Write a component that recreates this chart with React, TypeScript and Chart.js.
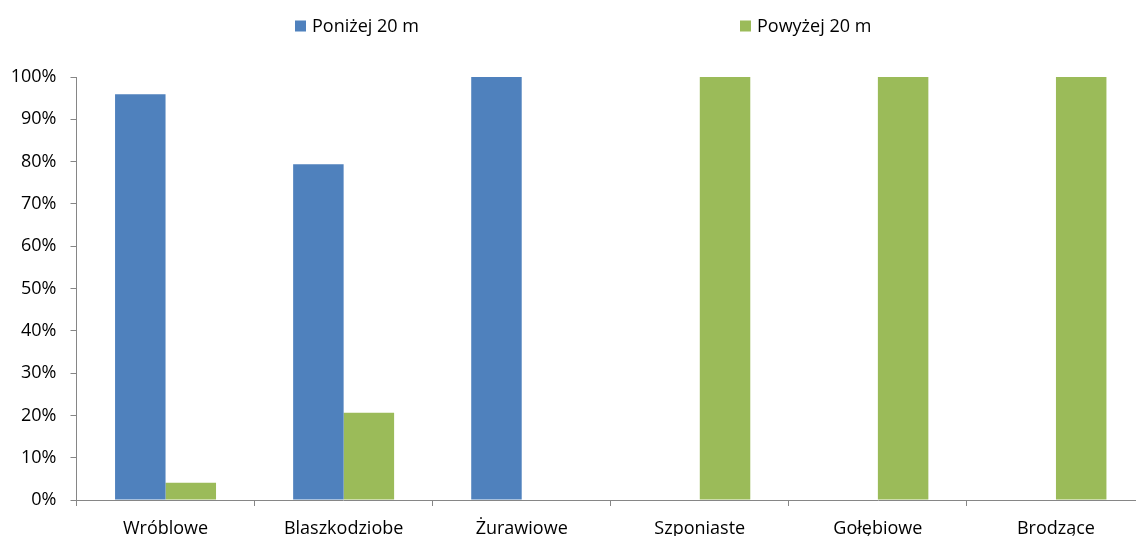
import React, { useEffect, useRef } from "react";
import { Chart, registerables } from "chart.js";

Chart.register(...registerables);

const categories = ["Wróblowe", "Blaszkodziobe", "Żurawiowe", "Szponiaste", "Gołębiowe", "Brodzące"];
const seriesNames = ["Poniżej 20 m", "Powyżej 20 m"];
const below20 = [95.9, 79.4, 100, 0, 0, 0];
const above20 = [4.1, 20.6, 0, 100, 100, 100];
const yTicks = [0, 10, 20, 30, 40, 50, 60, 70, 80, 90, 100];

const BLUE = "#4F81BD";
const GREEN = "#9BBB59";
const AXIS = "#868686";
const FONT = "'Open Sans', sans-serif";

const legendPlugin = {
  id: "spreadLegend",
  afterDraw(chart: any) {
    const ctx = chart.ctx;
    const xs = [295, 740];
    const y = 26;
    ctx.save();
    ctx.font = `18px ${FONT}`;
    ctx.textBaseline = "middle";
    ctx.textAlign = "left";
    chart.data.datasets.forEach((ds: any, i: number) => {
      ctx.fillStyle = ds.backgroundColor;
      ctx.fillRect(xs[i], y - 5.5, 11, 11);
      ctx.fillStyle = "#000";
      ctx.fillText(ds.label, xs[i] + 17, y + 1);
    });
    ctx.restore();
  },
};

export default function App() {
  const ref = useRef<HTMLCanvasElement>(null);
  useEffect(() => {
    if (!ref.current) return;
    const chart = new Chart(ref.current, {
      type: "bar",
      data: {
        labels: categories,
        datasets: [
          { label: seriesNames[0], data: below20, backgroundColor: BLUE, borderWidth: 0 },
          { label: seriesNames[1], data: above20, backgroundColor: GREEN, borderWidth: 0 },
        ],
      },
      options: {
        responsive: false,
        devicePixelRatio: 1,
        animation: false,
        layout: { padding: { top: 77, right: 3, left: 0, bottom: 0 } },
        datasets: { bar: { barPercentage: 1, categoryPercentage: 0.567 } },
        plugins: { legend: { display: false }, tooltip: { enabled: false } },
        scales: {
          x: {
            offset: true,
            afterFit: (s: any) => { s.height = 45; },
            grid: { display: true, drawOnChartArea: false, offset: true, tickLength: 6, color: AXIS },
            border: { display: true, color: AXIS, width: 1 },
            ticks: { color: "#000", font: { family: FONT, size: 18 }, padding: 12, maxRotation: 0, autoSkip: false },
          },
          y: {
            min: 0,
            max: 100,
            afterFit: (s: any) => { s.width = 76.5; },
            afterBuildTicks: (s: any) => { s.ticks = yTicks.map((v) => ({ value: v })); },
            grid: { display: true, drawOnChartArea: false, tickLength: 6, color: AXIS },
            border: { display: true, color: AXIS, width: 1 },
            ticks: { color: "#000", font: { family: FONT, size: 18 }, padding: 14, callback: (v: any) => `${v}%` },
          },
        },
      },
      plugins: [legendPlugin],
    });
    return () => chart.destroy();
  }, []);
  return (
    <div style={{ position: "fixed", left: 0, top: 0, width: 1136, height: 536, overflow: "hidden", background: "#fff" }}>
      <canvas ref={ref} width={1148} height={545} style={{ display: "block" }} />
    </div>
  );
}
